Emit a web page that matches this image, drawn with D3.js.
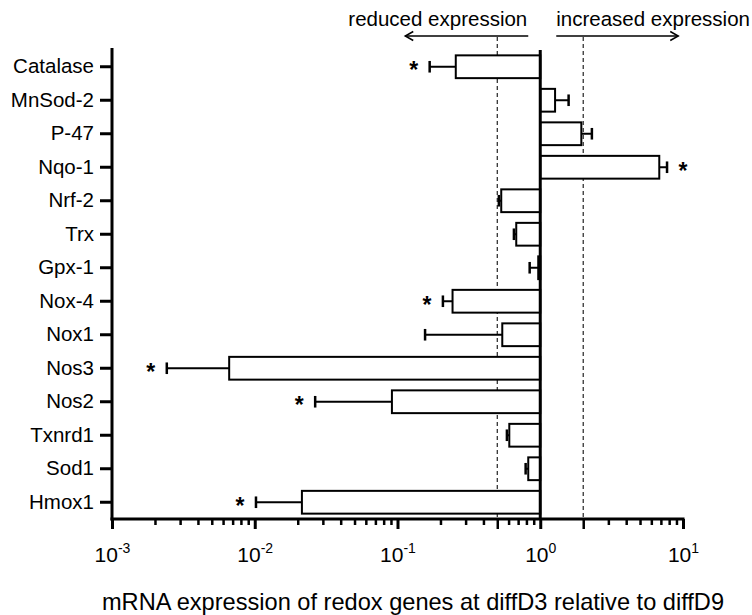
<!DOCTYPE html>
<html><head><meta charset="utf-8">
<script src="https://cdn.jsdelivr.net/npm/d3@7"></script>
<style>
html,body{margin:0;padding:0;background:#fff;}
text{font-family:Arial,"Liberation Sans",sans-serif;fill:#000;}
</style></head>
<body><svg id="c" width="752" height="615"></svg>
<script>
const genes = ["Catalase","MnSod-2","P-47","Nqo-1","Nrf-2","Trx","Gpx-1","Nox-4","Nox1","Nos3","Nos2","Txnrd1","Sod1","Hmox1"];
const means = [0.256,1.27,1.94,6.82,0.533,0.679,0.968,0.243,0.542,0.00662,0.0914,0.607,0.824,0.0214];
const errEnds = [0.168,1.58,2.30,7.73,0.513,0.654,0.843,0.208,0.156,0.00242,0.0265,0.584,0.79,0.0102];
const significant = [true,false,false,true,false,false,false,true,false,true,true,false,false,true];
const majorTicks = [1e-3,1e-2,1e-1,1e0,1e1];
const tickExponents = ["-3","-2","-1","0","1"];
const thresholds = [0.5,2];
const xTitle = "mRNA expression of redox genes at diffD3 relative to diffD9";
const reducedLabel = "reduced expression";
const increasedLabel = "increased expression";

const svg = d3.select("#c");
const x = d3.scaleLog().domain([1e-3,10]).range([112,683]);
const y = d3.scaleBand().domain(genes).range([50,519]).paddingInner(0.32).paddingOuter(0.16);
const bottom = 519, axisTop = 48;

// dashed threshold lines
svg.selectAll("line.thr").data(thresholds).join("line")
  .attr("x1",d=>x(d)).attr("x2",d=>x(d)).attr("y1",37).attr("y2",bottom)
  .attr("stroke","#222").attr("stroke-width",1.2).attr("stroke-dasharray","4,3");

// minor ticks
const minor = [];
for (let e=-3;e<1;e++) for (let m=2;m<=9;m++) minor.push(m*Math.pow(10,e));
const minorOnly = minor.filter(v=>!thresholds.some(t=>Math.abs(t-v)<1e-9));
svg.append("g").attr("transform",`translate(0,${bottom})`)
  .call(d3.axisBottom(x).tickValues(minorOnly).tickSize(6).tickFormat(""))
  .call(g=>g.select(".domain").remove())
  .call(g=>g.selectAll(".tick line").attr("stroke-width",2.5));
// longer ticks at thresholds
svg.append("g").attr("transform",`translate(0,${bottom})`)
  .call(d3.axisBottom(x).tickValues(thresholds).tickSize(10).tickFormat(""))
  .call(g=>g.select(".domain").remove())
  .call(g=>g.selectAll(".tick line").attr("stroke-width",2.5));
// major ticks
const xa = svg.append("g").attr("transform",`translate(0,${bottom})`)
  .call(d3.axisBottom(x).tickValues(majorTicks).tickSize(10).tickFormat(""))
  .call(g=>g.select(".domain").remove())
  .call(g=>g.selectAll(".tick line").attr("stroke-width",3));
xa.selectAll(".tick").each(function(d,i){
  const t = d3.select(this).append("text").attr("y",42.5).attr("text-anchor","middle")
    .style("font-size","21px").attr("fill","#000");
  t.append("tspan").text("10");
  t.append("tspan").attr("dy",-9).style("font-size","14px").text(tickExponents[i]);
});

// bars
svg.selectAll("rect.bar").data(genes).join("rect")
  .attr("x",(g,i)=>Math.min(x(1),x(means[i])))
  .attr("width",(g,i)=>Math.abs(x(means[i])-x(1)))
  .attr("y",g=>y(g)).attr("height",y.bandwidth())
  .attr("fill","#fff").attr("stroke","#000").attr("stroke-width",2);

// error bars
const eb = svg.append("g");
genes.forEach((g,i)=>{
  const cy = y(g)+y.bandwidth()/2;
  eb.append("line").attr("x1",x(means[i])).attr("x2",x(errEnds[i])).attr("y1",cy).attr("y2",cy)
    .attr("stroke","#000").attr("stroke-width",2);
  eb.append("line").attr("x1",x(errEnds[i])).attr("x2",x(errEnds[i])).attr("y1",cy-5.8).attr("y2",cy+5.8)
    .attr("stroke","#000").attr("stroke-width",2.5);
  if (significant[i]) {
    const dir = errEnds[i] < means[i] ? -1 : 1;
    eb.append("text").attr("x",x(errEnds[i])+dir*16).attr("y",cy+11.5)
      .attr("text-anchor","middle").style("font-size","23px").style("font-weight","bold").text("*");
  }
});

// baseline at 1
svg.append("line").attr("x1",x(1)).attr("x2",x(1)).attr("y1",50).attr("y2",bottom)
  .attr("stroke","#000").attr("stroke-width",3);

// y axis
svg.append("g").attr("transform","translate(112,0)")
  .call(d3.axisLeft(y).tickSize(12).tickPadding(6))
  .call(g=>g.select(".domain").remove())
  .call(g=>g.selectAll(".tick line").attr("stroke-width",3))
  .call(g=>g.selectAll(".tick text").style("font-size","20.5px").attr("fill","#000"));
svg.append("line").attr("x1",112).attr("x2",112).attr("y1",axisTop).attr("y2",bottom+1.5)
  .attr("stroke","#000").attr("stroke-width",3);
svg.append("line").attr("x1",110.5).attr("x2",x(10)+1.5).attr("y1",bottom).attr("y2",bottom)
  .attr("stroke","#000").attr("stroke-width",3);

// direction annotations
svg.append("text").attr("x",x(1)-13).attr("y",26).attr("text-anchor","end").style("font-size","20.5px").text(reducedLabel);
svg.append("text").attr("x",x(1)+16).attr("y",26).attr("text-anchor","start").style("font-size","20.5px").text(increasedLabel);
const ay = 36;
function arrow(x1,x2){
  const d = x2>x1?1:-1;
  svg.append("line").attr("x1",x1).attr("x2",x2).attr("y1",ay).attr("y2",ay).attr("stroke","#000").attr("stroke-width",1.5);
  svg.append("path").attr("d",`M${x2-d*8},${ay-4.5}L${x2},${ay}L${x2-d*8},${ay+4.5}`)
    .attr("fill","none").attr("stroke","#000").attr("stroke-width",1.5);
}
arrow(x(1)-12, x(1)-135);
arrow(x(1)+16, x(1)+138);

// x title
svg.append("text").attr("x",413).attr("y",610).attr("text-anchor","middle").style("font-size","23.6px").text(xTitle);
</script></body></html>
